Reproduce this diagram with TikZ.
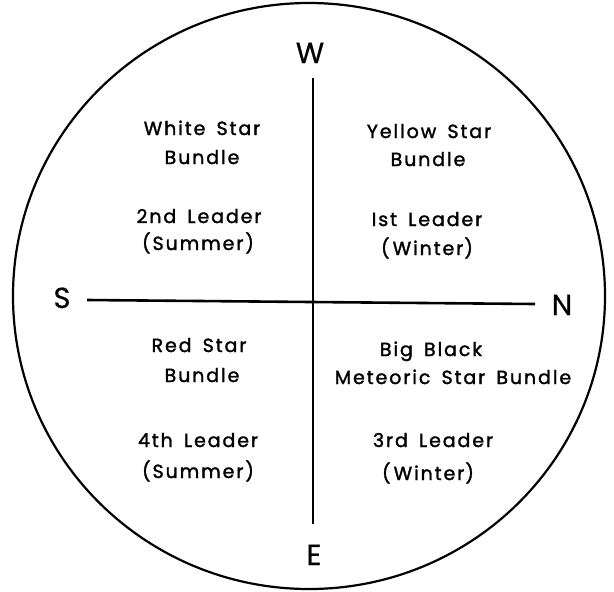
\documentclass[tikz,border=0pt]{standalone}
\usepackage{fontspec}
\setmainfont{Poppins}
\newfontfamily\labfont[LetterSpace=10,WordSpace=1.6,FakeBold=1.6]{Poppins}
\newfontfamily\cmpfont[FakeBold=0.6]{Poppins}
\begin{document}
\begin{tikzpicture}[x=1pt,y=-1pt,
  lab/.style={font=\labfont\fontsize{19}{20}\selectfont, inner sep=0pt, anchor=base},
  compass/.style={font=\cmpfont\fontsize{29}{30}\selectfont, inner sep=0pt, anchor=base},
  rule/.style={line width=2.6pt},
  rim/.style={line width=2.2pt}]
\useasboundingbox (0,0) rectangle (614,592);
\draw[rim] (309,296) ellipse [x radius=296pt, y radius=293pt];
% compass letters
\node[compass] (W) at (310,63) {W};
\node[compass] (E) at (314,565) {E};
\node[compass] (S) at (62,308) {S};
\node[compass] (N) at (562,315) {N};
\coordinate (vtop) at (313,78);
\coordinate (vbot) at (313,524);
\coordinate (hl) at (87,300);
\coordinate (hr) at (535,304);
\draw[rule] (vtop) -- (vbot);
\draw[rule] (hl) -- (hr);
% upper left
\node[lab] (ul1) at (202,135) {White Star};
\node[lab] (ul2) at (202,164) {Bundle};
\node[lab] (ul3) at (199,223) {2nd Leader};
\node[lab] (ul4) at (198,250) {(Summer)};
% upper right
\node[lab] (ur1) at (429,138) {Yellow Star};
\node[lab] (ur2) at (428,166) {Bundle};
\node[lab] (ur3) at (427,226) {Ist Leader};
\node[lab] (ur4) at (427,255) {(\hspace{3pt}Winter\hspace{1pt})};
% lower left
\node[lab] (ll1) at (199,352) {Red Star};
\node[lab] (ll2) at (202,382) {Bundle};
\node[lab] (ll3) at (198,447) {4th Leader};
\node[lab] (ll4) at (198,478) {(Summer)};
% lower right
\node[lab] (lr1) at (431,356) {Big Black};
\node[lab] (lr2) at (453,384) {Meteoric Star Bundle};
\node[lab] (lr3) at (433,447) {3rd Leader};
\node[lab] (lr4) at (428,480) {(\hspace{3pt}Winter\hspace{1pt})};
\end{tikzpicture}
\end{document}
